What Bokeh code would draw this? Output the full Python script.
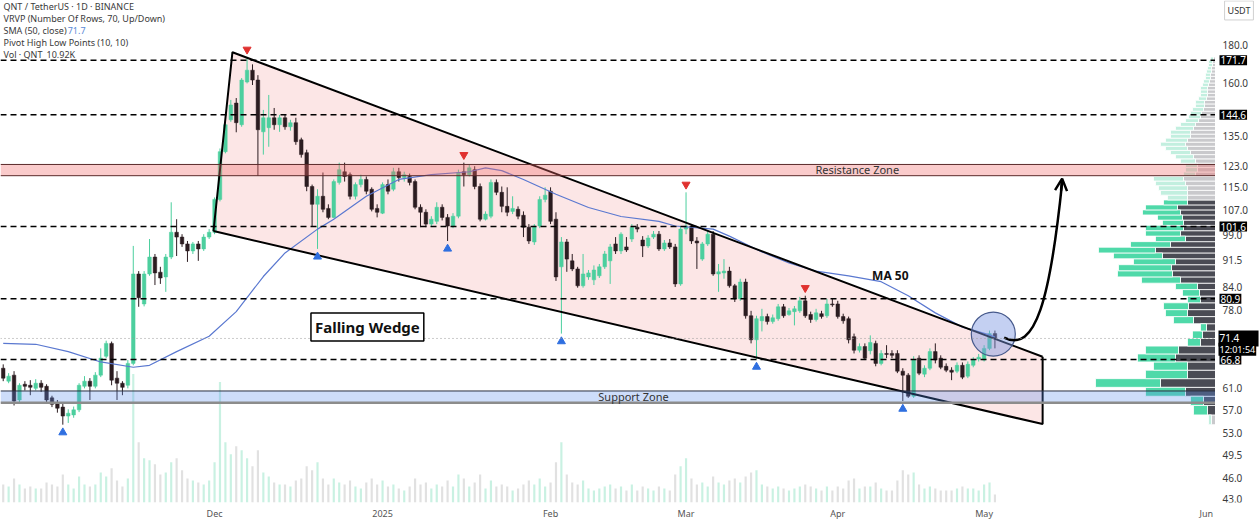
from bokeh.plotting import figure
from bokeh.layouts import row
from bokeh.core.properties import value
from bokeh.models import (Range1d, FixedTicker, Span, BoxAnnotation, LinearScale,
                          Label, Arrow, OpenHead, ColumnDataSource)
from bokeh.embed import file_html
from bokeh.resources import INLINE

# ---------------- data (daily candles, QNT/USDT) ----------------
opens = [65.0,62.4,63.6,58.8,61.8,61.6,61.0,62.0,61.4,59.2,58.2,57.5,55.9,56.1,57.0,61.4,62.4,61.4,63.6,67.5,
         70.3,63.0,62.0,61.6,66.0,87.5,79.6,87.5,92.3,88.0,86.7,92.3,99.8,98.3,96.2,94.1,96.2,94.7,98.3,99.8,
         110.7,128.7,142.3,150.0,140.1,160.3,166.4,161.3,137.0,138.8,143.2,140.1,143.2,139.2,141.0,133.6,128.3,115.3,109.0,111.8,
         107.6,104.6,116.8,120.8,119.7,111.8,116.0,117.9,114.3,107.6,106.0,116.0,114.3,120.8,118.6,119.0,117.1,108.0,106.3,102.4,
         103.3,108.0,104.6,101.8,105.0,120.8,119.7,121.6,115.3,104.0,105.0,116.8,113.2,108.3,106.6,107.3,105.3,101.4,96.8,101.8,
         110.7,113.6,104.0,89.5,96.8,91.2,88.9,84.3,86.7,85.9,87.0,89.5,91.2,96.2,94.1,95.3,97.7,101.4,97.4,95.6,
         98.3,99.2,94.7,96.5,95.3,84.8,100.8,101.8,97.1,91.7,96.2,99.2,87.5,87.8,88.3,84.3,80.9,85.3,76.7,71.1,
         75.5,76.5,75.3,76.0,78.9,77.0,77.7,77.9,80.4,77.0,75.8,77.2,76.7,79.6,79.6,76.5,76.0,71.8,68.8,69.6,
         68.7,70.3,66.0,68.1,68.1,68.1,64.4,63.6,59.5,67.1,63.8,65.0,68.5,67.1,65.4,64.6,64.4,65.6,63.4,65.6,
         66.9,66.7,69.2,72.5]
highs = [65.8,64.0,64.4,62.0,62.4,62.6,62.8,62.6,61.8,59.6,58.8,58.2,57.1,57.6,62.0,63.4,63.0,64.2,69.2,70.9,
         70.7,64.4,62.4,66.7,95.6,88.3,88.3,97.7,93.2,89.5,93.2,109.7,104.0,99.2,97.1,96.8,97.1,99.2,100.8,111.4,
         130.0,141.0,151.5,152.4,162.3,173.3,169.5,163.8,146.8,153.9,147.7,144.5,144.5,142.3,143.2,134.5,129.5,116.0,114.3,120.5,
         109.0,117.9,124.3,124.3,120.5,116.8,119.7,119.0,115.0,109.0,116.8,117.9,122.3,122.3,120.8,120.1,117.9,109.0,107.3,105.0,
         109.7,109.0,105.7,106.0,121.6,124.3,123.5,122.9,116.4,106.6,117.9,117.9,115.3,115.0,111.8,108.3,106.6,102.4,102.4,111.8,
         115.0,115.0,106.3,98.3,97.7,93.2,89.5,93.2,88.6,89.9,90.3,94.1,96.2,98.3,99.8,98.3,102.4,102.4,98.6,98.9,
         100.2,100.2,97.4,97.7,96.2,101.8,113.2,102.4,98.3,96.8,100.2,100.2,90.3,91.7,89.5,84.8,86.2,86.2,77.9,76.7,
         78.4,77.2,77.0,79.6,79.6,78.6,79.1,81.4,81.7,77.7,78.4,77.9,80.9,80.9,80.4,77.2,76.5,72.5,70.3,70.3,
         72.1,70.9,68.8,69.9,68.8,68.8,65.0,64.0,67.5,67.7,65.6,69.2,70.3,67.7,66.0,65.2,66.2,66.2,66.4,67.3,
         68.0,69.9,73.2,73.2]
lows = [62.4,62.0,57.8,58.4,60.6,59.7,60.6,60.3,58.4,57.5,56.5,54.4,54.7,55.6,56.6,61.0,58.8,61.0,63.2,67.1,
        61.6,58.8,59.7,61.0,65.6,78.9,79.0,87.0,84.5,84.8,82.7,91.7,92.6,95.3,90.9,93.2,91.2,94.1,97.7,99.2,
        110.0,128.0,141.4,136.8,139.2,159.6,158.8,119.3,127.5,130.7,137.9,137.0,137.9,137.5,131.5,126.3,113.6,101.8,94.7,106.3,
        104.0,104.3,116.0,117.1,110.7,110.7,115.0,112.5,106.6,104.6,105.7,112.5,113.6,117.1,117.1,115.7,107.3,101.4,101.4,101.8,
        102.4,103.6,97.1,101.1,104.3,115.3,119.0,114.3,103.3,103.6,104.3,112.2,106.3,105.0,105.7,104.0,98.3,96.2,95.9,101.1,
        109.7,102.4,85.6,72.5,88.1,88.3,83.8,83.8,85.9,84.5,86.4,88.9,84.8,93.2,93.2,93.8,96.8,99.8,92.3,95.0,
        97.7,94.1,94.1,94.7,84.0,84.3,99.2,96.2,88.9,91.2,95.6,87.0,82.7,86.2,83.8,80.1,80.4,76.0,70.3,66.9,
        73.0,74.6,74.8,75.5,76.2,76.7,74.4,77.4,76.2,75.0,75.3,76.0,76.2,78.9,76.0,74.8,70.3,68.1,68.3,66.7,
        67.9,65.4,65.6,67.1,67.1,64.0,58.6,59.2,59.2,63.6,63.2,64.6,66.0,64.8,64.2,62.6,64.0,62.8,63.0,65.2,
        66.4,66.4,68.8,69.2]
closes = [63.0,63.4,58.6,61.6,61.4,61.2,62.0,61.2,58.8,58.0,57.3,55.9,56.4,57.0,61.6,62.4,61.4,63.6,67.1,70.3,
          62.6,62.0,61.2,66.0,87.5,81.2,87.5,92.3,87.8,86.4,92.3,99.8,98.3,96.2,94.1,96.2,94.7,98.3,99.8,110.7,
          128.7,140.1,149.1,141.0,161.3,166.4,161.3,137.9,143.2,143.2,140.1,143.2,139.2,141.0,132.8,127.5,115.3,109.0,111.8,107.3,
          104.6,117.1,121.6,119.0,111.8,116.0,117.9,113.6,107.3,106.3,116.0,113.6,120.8,118.6,119.7,116.8,108.0,106.3,102.4,104.0,
          108.0,104.6,101.8,105.0,120.5,119.7,122.3,115.3,104.0,105.7,116.8,113.2,108.3,106.3,107.6,105.0,101.4,97.1,101.8,110.7,
          112.2,103.3,86.7,96.8,91.7,88.9,84.3,87.5,87.8,88.6,89.5,93.2,95.3,94.1,99.2,94.4,101.4,100.8,95.6,98.0,
          99.2,94.7,96.5,95.3,84.8,100.8,101.8,97.1,96.5,96.2,99.2,87.5,88.1,88.3,84.3,80.9,85.3,76.7,71.1,76.0,
          76.5,75.3,76.2,78.9,76.7,77.9,78.4,80.4,76.7,75.8,77.4,76.5,79.6,79.4,76.5,75.5,71.1,68.8,69.6,67.1,
          70.5,66.0,68.1,67.9,67.7,64.4,63.6,59.5,66.7,64.0,65.0,68.5,66.7,65.2,64.6,64.2,65.6,63.2,65.8,66.7,
          67.3,69.2,72.5,71.4]
volumes_k = [9,8,12,9,7,8,7,7,10,9, 8,14,9,7,13,9,8,9,15,13, 17,11,8,12,64,30,22,21,19,14,
             15,20,22,16,12,11,10,9,11,20, 60,30,24,28,26,22,18,26,15,13, 10,9,9,8,11,12,18,16,20,12,
             9,12,10,9,11,8,7,10,12,9, 11,8,9,7,6,8,12,9,10,7, 9,8,11,8,14,12,8,10,14,7,
             11,8,9,8,6,7,9,11,9,12, 8,10,20,30,14,10,9,11,7,6, 7,8,9,7,8,6,9,6,8,7,
             6,8,7,6,14,18,22,12,9,10, 8,13,10,9,11,12,10,13,15,16, 9,8,7,8,7,6,7,8,9,8,
             7,6,8,6,8,7,11,12,7,8, 8,10,7,6,6,11,16,14,15,9, 7,8,7,6,6,6,7,8,7,7,
             6,9,10,4]

# SMA(50, close)
sma_idx = [0,6,12,18,24,27,32,38,43,48,52,58,61,67,73,79,86,89,92,96,102,108,114,121,124,131,134,140,145,150,156,162,167,172,177,182,183]
sma_val = [70.3,70.1,68.5,66.3,65.2,65.6,68.5,71.9,77.7,86.8,93.5,100.8,104.0,111.8,117.9,119.7,120.8,122.3,121.2,117.9,
           112.5,107.9,104.9,103.3,101.8,100.8,98.6,93.8,90.6,88.3,87.0,85.4,81.7,77.4,74.0,72.2,71.7]

pivot_high_idx = [45, 85, 126, 148]
pivot_low_idx = [11, 58, 82, 103, 139, 166]

# Visible-range volume profile: 70 rows, up / down volume per row (bottom -> top)
vp_low, vp_step = 54.4, 1.7
vp_down = [4,8,12,30,55,28,28,40,37,15, 13,9,22,28,27,15,16,18,35,43, 44,40,53,60,45,30,35,32,32,33,
           35,38,28,28,28,28,30,32,20,18, 18,20,22,25,28,30,28,25,25,22, 20,17,15,14,12,11,11,9,8,8,
           8,7,6,5,5,4,4,3,3,2]
vp_up = [3,14,13,40,65,42,34,38,33,13, 10,6,20,22,25,13,17,22,39,55, 53,42,49,57,40,30,35,38,21,25,
         38,32,24,20,27,29,30,30,12,12, 12,15,18,20,22,25,22,20,20,18, 15,13,12,11,11,9,9,8,7,7,
         7,6,6,5,5,5,4,4,4,3]
va_low, va_high = 56.0, 110.6

key_levels = [171.7, 144.6, 101.6, 80.9, 66.8]
last_price = 71.4
countdown = "12:01:54"
resistance_zone = (119.3, 123.6)
support_zone = (58.3, 60.5)
price_ticks = [43.0, 46.0, 49.5, 53.0, 57.0, 61.0, 78.0, 84.0, 91.5, 99.0, 107.0, 115.0, 123.0, 135.0, 160.0, 180.0]
month_ticks = [39, 70, 101, 126, 154, 181, 222]
month_labels = ["Dec", "2025", "Feb", "Mar", "Apr", "May", "Jun"]

# drawn annotations (chart-index, price)
wedge_x = [38.8, 42.3, 191.8, 191.8]
wedge_y = [100.2, 176.1, 67.4, 54.5]

UP = "#4ccf9e"
DOWN = "#2b1c20"
FONT = "Noto Sans"

n = len(opens)
xs = list(range(n))
inc = [c >= o for o, c in zip(opens, closes)]
src = ColumnDataSource(dict(
    x=xs, h=highs, l=lows,
    top=[max(o, c) for o, c in zip(opens, closes)],
    bot=[min(o, c) for o, c in zip(opens, closes)],
    color=[UP if i else DOWN for i in inc],
    vcolor=[UP if i else "#9a9a9a" for i in inc],
    vol=volumes_k,
))

yr = Range1d(42.56, 207.3)
p = figure(width=1215, height=522, output_backend="svg", toolbar_location=None,
           y_axis_type="log", y_axis_location=None,
           x_range=Range1d(-0.5, 223.7), y_range=yr,
           min_border_left=0, min_border_top=0, min_border_right=0, min_border_bottom=17)
p.extra_y_ranges = {"vol": Range1d(0, 250)}
p.extra_y_scales = {"vol": LinearScale()}
p.extra_x_ranges = {"vp": Range1d(1215, 0)}
p.grid.visible = False
p.outline_line_color = None
p.background_fill_color = "white"
p.border_fill_color = "white"

xa = p.xaxis[0]
xa.ticker = FixedTicker(ticks=month_ticks)
xa.major_label_overrides = {t: s for t, s in zip(month_ticks, month_labels)}
xa.axis_line_color = None
xa.major_tick_line_color = None
xa.minor_tick_line_color = None
xa.major_tick_out = 0
xa.major_tick_in = 0
xa.minor_tick_out = 0
xa.minor_tick_in = 0
xa.axis_label_standoff = 0
xa.major_label_text_font_size = "9px"
xa.major_label_text_color = "#555555"
xa.major_label_text_font = FONT
xa.major_label_standoff = 4

# wedge fill
wf = p.patch(wedge_x, wedge_y, fill_color="#f28b8b", fill_alpha=0.22, line_color=None)
wf.level = "underlay"

# volume profile
rows_b = [vp_low + k * vp_step for k in range(len(vp_up))]
rows_t = [b + vp_step for b in rows_b]
in_va = [(b >= va_low and t <= va_high) for b, t in zip(rows_b, rows_t)]
vsrc = ColumnDataSource(dict(
    b=rows_b, t=rows_t, z=[0] * len(vp_up), d=vp_down,
    du=[d + u for d, u in zip(vp_down, vp_up)],
    dc=["#4a4b54" if v else "#c9c9cc" for v in in_va],
    uc=["#4fd9a9" if v else "#c2efdf" for v in in_va],
))
p.quad(left="z", right="d", bottom="b", top="t", source=vsrc, x_range_name="vp",
       fill_color="dc", line_color="white", line_width=0.8)
p.quad(left="d", right="du", bottom="b", top="t", source=vsrc, x_range_name="vp",
       fill_color="uc", line_color="white", line_width=0.8)

# zones
rz = BoxAnnotation(bottom=resistance_zone[0], top=resistance_zone[1], fill_color="#f26b6b",
                   fill_alpha=0.35, line_color=None, level="glyph")
sz = BoxAnnotation(bottom=support_zone[0], top=support_zone[1], fill_color="#5b8def",
                   fill_alpha=0.3, line_color=None, level="glyph")
p.add_layout(rz)
p.add_layout(sz)
for lv, c, w in [(resistance_zone[0], "#5a2a2a", 1), (resistance_zone[1], "#5a2a2a", 1),
                 (support_zone[1], "#2a3040", 1), (support_zone[0], "#8c8c8c", 2.5)]:
    p.add_layout(Span(location=lv, dimension="width", line_color=c, line_width=w))

# volume bars
p.vbar(x="x", top="vol", bottom=0, width=0.4, source=src, y_range_name="vol",
       fill_color="vcolor", line_color=None, fill_alpha=0.3)

# candles
p.segment(x0="x", y0="h", x1="x", y1="l", source=src, line_color="color", line_width=1)
p.vbar(x="x", top="top", bottom="bot", width=0.66, source=src, fill_color="color",
       line_color="color", line_width=0.5)

# SMA 50
p.line(sma_idx, sma_val, line_color="#5a78d0", line_width=1.2)

# key levels
for lv in key_levels:
    p.add_layout(Span(location=lv, dimension="width", line_color="black", line_width=1.5, line_dash="6 4"))
p.add_layout(Span(location=last_price, dimension="width", line_color="#9a9a9a", line_width=1, line_dash="1 3"))

# wedge outline
p.line([wedge_x[0], wedge_x[1], wedge_x[2]], [wedge_y[0], wedge_y[1], wedge_y[2]], line_color="black", line_width=2)
p.line([wedge_x[0], wedge_x[3], wedge_x[2]], [wedge_y[0], wedge_y[3], wedge_y[2]], line_color="black", line_width=2)

# pivots
p.scatter(pivot_high_idx, [highs[i] * 1.025 for i in pivot_high_idx],
          marker="inverted_triangle", size=8, fill_color="#e0312f", line_color="#e0312f")
p.scatter(pivot_low_idx, [lows[i] / 1.025 for i in pivot_low_idx],
          marker="triangle", size=8, fill_color="#2f6fe0", line_color="#2f6fe0")

# breakout circle and projected arrow
p.scatter([182.7], [72.4], marker="circle", size=44, fill_color="#7d97e3", fill_alpha=0.45,
          line_color="#475a8c", line_width=1.2)
p.bezier(x0=[184.7], y0=[71.6], x1=[195.4], y1=[116.8], cx0=[190.5], cy0=[68.1],
         cx1=[193.2], cy1=[80.9], line_color="black", line_width=2.5)
p.add_layout(Arrow(end=OpenHead(size=12, line_width=2.5, line_color="black"),
                   x_start=195.2, y_start=113.8, x_end=195.4, y_end=118.2,
                   line_color="black", line_width=2.5))

# texts
def lab(fig, x, y, text, size="9px", color="#333333", **kw):
    fig.add_layout(Label(x=x, y=y, text=text, text_font=FONT, text_font_size=size,
                         text_color=color, **kw))

lab(p, 157.6, 121.6, "Resistance Zone", "11px", "#333333", text_align="center", text_baseline="middle")
lab(p, 116.3, 59.4, "Support Zone", "11px", "#333333", text_align="center", text_baseline="middle")
lab(p, 163.7, 87.2, "MA 50", "12px", "#111111", text_align="center", text_baseline="middle", text_font_style="bold")
lab(p, 67.2, 74.0, "Falling Wedge", "15px", "#111111", text_align="center", text_baseline="middle",
    text_font_style="bold", border_line_color="black", border_line_width=1.5,
    background_fill_color="white", padding=4)

legend_lines = ["QNT / TetherUS · 1D · BINANCE", "VRVP (Number Of Rows, 70, Up/Down)",
                "SMA (50, close)", "Pivot High Low Points (10, 10)", "Vol · QNT"]
legend_y = [203.4, 195.9, 188.6, 181.7, 175.0]
for t, y in zip(legend_lines, legend_y):
    lab(p, 0.05, y, t, "9px", "#3a3a3a", text_baseline="middle")
lab(p, 11.9, 188.6, "71.7", "9px", "#5a8ad6", text_baseline="middle")
lab(p, 8.0, 175.0, "10.92K", "9px", "#3a3a3a", text_baseline="middle")

# ---------------- price scale panel ----------------
pa = figure(width=45, height=522, output_backend="svg", toolbar_location=None,
            y_axis_type="log", x_axis_location=None, y_axis_location=None,
            x_range=Range1d(0, 45), y_range=yr,
            min_border_left=0, min_border_top=0, min_border_right=0, min_border_bottom=17)
pa.grid.visible = False
pa.outline_line_color = None
pa.background_fill_color = "white"
pa.border_fill_color = "white"
pa.text(x=[7] * len(price_ticks), y=price_ticks, text=[f"{t:.1f}" for t in price_ticks],
        text_font=value(FONT), text_font_size="10px", text_color="#3a3a3a", text_baseline="middle")
for lv in key_levels[:-1]:
    lab(pa, 4, lv, f"{lv:.1f}", "10px", "white", text_align="left", text_baseline="middle",
        background_fill_color="black", padding=1)
lab(pa, 4, key_levels[-1], f"{key_levels[-1]:.1f}", "10px", "white", text_align="left",
    text_baseline="middle", background_fill_color="black", padding=1)
lab(pa, 3, last_price, f"{last_price:.1f}" + "       ", "10px", "white", text_align="left",
    text_baseline="middle", background_fill_color="black", padding=1)
lab(pa, 3, 69.0, countdown, "9px", "white", text_align="left", text_baseline="middle",
    background_fill_color="black", padding=(1, 0))
lab(pa, 23.5, 200.9, "USDT", "9px", "#333333", text_align="center", text_baseline="middle",
    border_line_color="#d0d0d0", background_fill_color="white", padding=3)

layout = row(p, pa)
open("out.html", "w").write(file_html(layout, INLINE))
